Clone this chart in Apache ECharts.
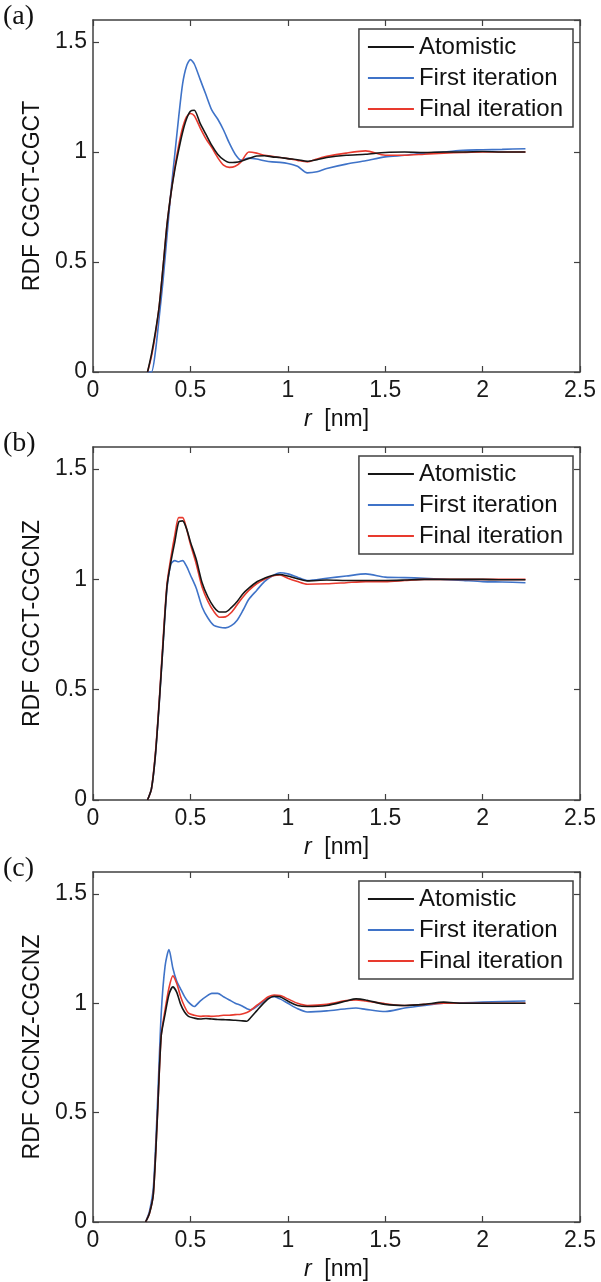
<!DOCTYPE html>
<html>
<head>
<meta charset="utf-8">
<title>RDF comparison</title>
<script src="https://cdn.jsdelivr.net/npm/echarts@6/dist/echarts.min.js"></script>
<style>
  html, body { margin: 0; padding: 0; background: #fff; }
  #chart { width: 601px; height: 1282px; }
</style>
</head>
<body>
<div id="chart"></div>
<script>
// series names / axis labels
const seriesNames = ['Atomistic', 'First iteration', 'Final iteration']
const panelLabels = ['(a)', '(b)', '(c)']
const yNames = ['RDF CGCT-CGCT', 'RDF CGCT-CGCNZ', 'RDF CGCNZ-CGCNZ']
const xTicks = [0, 0.5, 1, 1.5, 2, 2.5]
const yTicks = [0, 0.5, 1, 1.5]

// (a) CGCT-CGCT
const rA = [0.28, 0.30, 0.32, 0.34, 0.36, 0.38, 0.40, 0.42, 0.44, 0.46, 0.48, 0.50, 0.52, 0.55, 0.58, 0.61, 0.64, 0.67, 0.70, 0.73, 0.76, 0.80, 0.84, 0.88, 0.92, 0.96, 1.00, 1.05, 1.10, 1.15, 1.20, 1.30, 1.40, 1.50, 1.60, 1.70, 1.80, 1.90, 2.00, 2.10, 2.22]
const atomA = [0, 0.08, 0.18, 0.30, 0.48, 0.67, 0.81, 0.92, 1.01, 1.09, 1.15, 1.185, 1.19, 1.13, 1.08, 1.03, 0.99, 0.965, 0.952, 0.953, 0.958, 0.97, 0.982, 0.983, 0.978, 0.975, 0.97, 0.965, 0.958, 0.965, 0.975, 0.985, 0.99, 0.998, 1.0, 0.998, 1.0, 1.0, 1.002, 1.0, 1.0]
const firstA = [0, 0, 0.09, 0.25, 0.42, 0.62, 0.82, 0.99, 1.16, 1.31, 1.39, 1.42, 1.40, 1.33, 1.26, 1.19, 1.15, 1.10, 1.04, 0.99, 0.963, 0.972, 0.968, 0.96, 0.955, 0.953, 0.948, 0.935, 0.905, 0.91, 0.925, 0.945, 0.96, 0.978, 0.985, 0.995, 1.0, 1.008, 1.01, 1.012, 1.015]
const finalA = [0, 0.07, 0.17, 0.30, 0.48, 0.67, 0.81, 0.93, 1.03, 1.11, 1.16, 1.175, 1.165, 1.11, 1.06, 1.02, 0.975, 0.94, 0.93, 0.935, 0.955, 1.0, 0.995, 0.985, 0.98, 0.975, 0.97, 0.962, 0.955, 0.968, 0.98, 0.995, 1.005, 0.985, 0.985, 0.99, 0.995, 0.998, 1.0, 1.0, 1.0]

// (b) CGCT-CGCNZ
const rB = [0.28, 0.30, 0.32, 0.34, 0.36, 0.38, 0.40, 0.42, 0.44, 0.46, 0.48, 0.50, 0.53, 0.56, 0.59, 0.62, 0.65, 0.68, 0.71, 0.74, 0.77, 0.80, 0.84, 0.88, 0.92, 0.96, 1.00, 1.05, 1.10, 1.20, 1.30, 1.40, 1.50, 1.60, 1.70, 1.80, 1.90, 2.00, 2.10, 2.22]
const atomB = [0, 0.05, 0.2, 0.44, 0.71, 0.97, 1.08, 1.17, 1.26, 1.265, 1.23, 1.17, 1.09, 0.985, 0.92, 0.875, 0.852, 0.852, 0.872, 0.9, 0.935, 0.96, 0.988, 1.005, 1.018, 1.022, 1.015, 1.003, 0.993, 0.997, 0.995, 0.995, 0.995, 0.997, 1.0, 1.0, 1.0, 1.0, 0.998, 0.998]
const firstB = [0, 0.05, 0.2, 0.44, 0.71, 0.96, 1.07, 1.085, 1.08, 1.085, 1.06, 1.02, 0.96, 0.875, 0.825, 0.792, 0.783, 0.78, 0.79, 0.815, 0.86, 0.91, 0.95, 0.99, 1.015, 1.03, 1.025, 1.01, 0.995, 1.005, 1.015, 1.025, 1.01, 1.008, 1.005, 1.0, 0.995, 0.99, 0.988, 0.985]
const finalB = [0, 0.05, 0.21, 0.45, 0.73, 0.98, 1.1, 1.2, 1.28, 1.28, 1.23, 1.16, 1.07, 0.965, 0.9, 0.855, 0.828, 0.83, 0.85, 0.885, 0.92, 0.95, 0.98, 1.0, 1.015, 1.02, 1.005, 0.99, 0.978, 0.98, 0.985, 0.99, 0.99, 0.995, 1.0, 1.0, 1.0, 1.0, 1.0, 1.0]

// (c) CGCNZ-CGCNZ
const rC = [0.27, 0.29, 0.31, 0.33, 0.35, 0.37, 0.39, 0.41, 0.43, 0.45, 0.47, 0.49, 0.52, 0.55, 0.58, 0.61, 0.64, 0.67, 0.70, 0.73, 0.76, 0.79, 0.81, 0.84, 0.87, 0.90, 0.93, 0.96, 1.00, 1.05, 1.10, 1.20, 1.30, 1.35, 1.40, 1.50, 1.60, 1.70, 1.80, 1.90, 2.00, 2.10, 2.22]
const atomC = [0, 0.04, 0.13, 0.47, 0.85, 0.95, 1.04, 1.075, 1.05, 0.995, 0.96, 0.94, 0.932, 0.928, 0.93, 0.928, 0.926, 0.925, 0.924, 0.922, 0.92, 0.918, 0.935, 0.965, 0.995, 1.02, 1.032, 1.03, 1.01, 0.99, 0.985, 0.99, 1.01, 1.02, 1.015, 0.995, 0.99, 0.995, 1.005, 1.0, 1.0, 1.0, 1.0]
const firstC = [0, 0.05, 0.16, 0.52, 0.95, 1.17, 1.245, 1.16, 1.1, 1.065, 1.03, 1.005, 0.985, 1.01, 1.03, 1.045, 1.045, 1.03, 1.015, 1.0, 0.99, 0.975, 0.97, 0.985, 1.005, 1.025, 1.03, 1.02, 1.0, 0.975, 0.96, 0.965, 0.975, 0.978, 0.972, 0.962, 0.978, 0.99, 1.0, 1.002, 1.005, 1.008, 1.01]
const finalC = [0, 0.04, 0.13, 0.47, 0.85, 0.97, 1.07, 1.125, 1.09, 1.03, 0.985, 0.955, 0.945, 0.94, 0.942, 0.94, 0.942, 0.945, 0.945, 0.948, 0.95, 0.958, 0.968, 0.99, 1.01, 1.03, 1.038, 1.035, 1.02, 1.0, 0.99, 0.995, 1.012, 1.015, 1.01, 0.998, 0.99, 0.995, 1.0, 1.0, 1.0, 1.0, 1.0]

const panels = [
  { r: rA, ys: [atomA, firstA, finalA] },
  { r: rB, ys: [atomB, firstB, finalB] },
  { r: rC, ys: [atomC, firstC, finalC] }
]

const colors = ['#161616', '#3f73c8', '#e83a2e']
const gridTop = [20, 447, 872]
const gridHeight = [352, 353, 355]
const frameColor = '#404040'
const font = '"Liberation Sans", Arial, sans-serif'

let myChart = echarts.init(document.getElementById('chart'), null, { renderer: 'canvas' })

let grids = []
let xAxes = []
let yAxes = []
let series = []
let legends = []
let graphics = []

function frameLine() {
  return { show: true, onZero: false, lineStyle: { color: frameColor, width: 1.5 } }
}
function frameTick() {
  return { show: true, inside: true, length: 6, lineStyle: { color: frameColor, width: 1.2 } }
}

panels.forEach(function (p, i) {
  grids.push({ left: 93, width: 487, top: gridTop[i], height: gridHeight[i] })

  // bottom axis with labels, top one only mirrors ticks (box on)
  xAxes.push({
    gridIndex: i, type: 'value', min: 0, max: 2.5, interval: 0.5, position: 'bottom',
    name: '{i|r}  [nm]', nameLocation: 'middle', nameGap: 36,
    nameTextStyle: { fontSize: 23, fontFamily: font, color: '#111', rich: { i: { fontStyle: 'italic', fontSize: 23, fontFamily: font, color: '#111' } } },
    axisLine: frameLine(),
    axisTick: frameTick(),
    axisLabel: { fontSize: 23, fontFamily: font, color: '#1a1a1a', margin: 7,
      formatter: function (v) { return xTicks.indexOf(v) >= 0 ? String(v) : '' } },
    splitLine: { show: false }
  })
  xAxes.push({
    gridIndex: i, type: 'value', min: 0, max: 2.5, interval: 0.5, position: 'top',
    axisLine: frameLine(),
    axisTick: frameTick(),
    axisLabel: { show: false },
    splitLine: { show: false }
  })
  yAxes.push({
    gridIndex: i, type: 'value', min: 0, max: 1.6, interval: 0.5, position: 'left',
    name: yNames[i], nameLocation: 'middle', nameGap: 44,
    nameTextStyle: { fontSize: 23, fontFamily: font, color: '#111' },
    axisLine: frameLine(),
    axisTick: frameTick(),
    axisLabel: { fontSize: 23, fontFamily: font, color: '#1a1a1a', margin: 6, showMaxLabel: false,
      formatter: function (v) { return yTicks.indexOf(v) >= 0 ? String(v) : '' } },
    splitLine: { show: false }
  })
  yAxes.push({
    gridIndex: i, type: 'value', min: 0, max: 1.6, interval: 0.5, position: 'right',
    axisLine: frameLine(),
    axisTick: frameTick(),
    axisLabel: { show: false },
    splitLine: { show: false }
  })

  p.ys.forEach(function (ys, k) {
    series.push({
      name: seriesNames[k],
      type: 'line',
      xAxisIndex: 2 * i,
      yAxisIndex: 2 * i,
      symbol: 'none',
      smooth: 0.25,
      animation: false,
      z: k === 0 ? 4 : 3,
      itemStyle: { color: colors[k] },
      lineStyle: { color: colors[k], width: 1.6 },
      data: p.r.map(function (x, j) { return [x, ys[j]] })
    })
  })

  legends.push({
    orient: 'vertical',
    right: 28,
    top: gridTop[i] + 9,
    data: seriesNames,
    icon: 'rect',
    itemWidth: 46,
    itemHeight: 2,
    itemGap: 7,
    padding: [6, 10, 6, 9],
    borderColor: frameColor,
    borderWidth: 1.5,
    backgroundColor: '#fff',
    selectedMode: false,
    textStyle: { fontSize: 24, fontFamily: font, color: '#111' }
  })

  graphics.push({
    type: 'text',
    left: 3,
    top: gridTop[i] - 17,
    style: { text: panelLabels[i], font: '28px "Liberation Serif", "Times New Roman", serif', fill: '#111' }
  })
})

myChart.setOption({
  backgroundColor: '#fff',
  animation: false,
  grid: grids,
  xAxis: xAxes,
  yAxis: yAxes,
  legend: legends,
  graphic: graphics,
  series: series
})
</script>
</body>
</html>
